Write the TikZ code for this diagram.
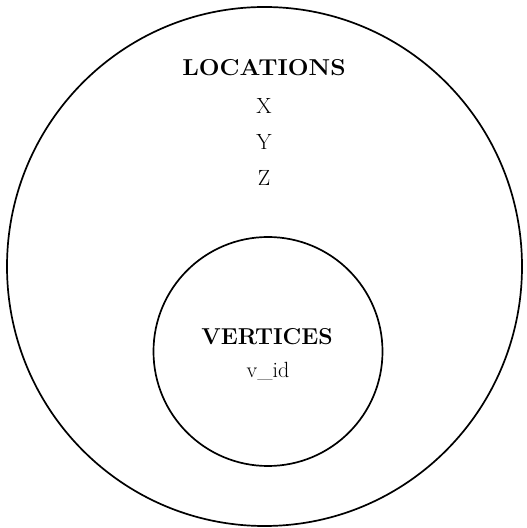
\documentclass[tikz,border=0pt]{standalone}
\begin{document}
\begin{tikzpicture}[x=1pt,y=1pt,
  ring/.style={draw,line width=1.7pt},
  lbl/.style={inner sep=0pt,font=\fontsize{22}{26}\selectfont},
  head/.style={inner sep=0pt,font=\fontsize{23}{27}\selectfont\bfseries}]
\useasboundingbox (0,0) rectangle (527,528);
\draw[ring] (264.5,261.5) ellipse (257.5 and 259.5);
\draw[ring] (268,176.5) circle (114.5);
\node[head] (loc) at (264,460) {\scalebox{1.07}[1]{LOCATIONS}};
\node[lbl] (x) at (264,422.5) {X};
\node[lbl] (y) at (264,386.5) {Y};
\node[lbl] (z) at (264,350.5) {Z};
\node[head] (ver) at (267,191.5) {VERTICES};
\node[lbl,anchor=base] (vid) at (268,150) {v\_id};
\end{tikzpicture}
\end{document}
